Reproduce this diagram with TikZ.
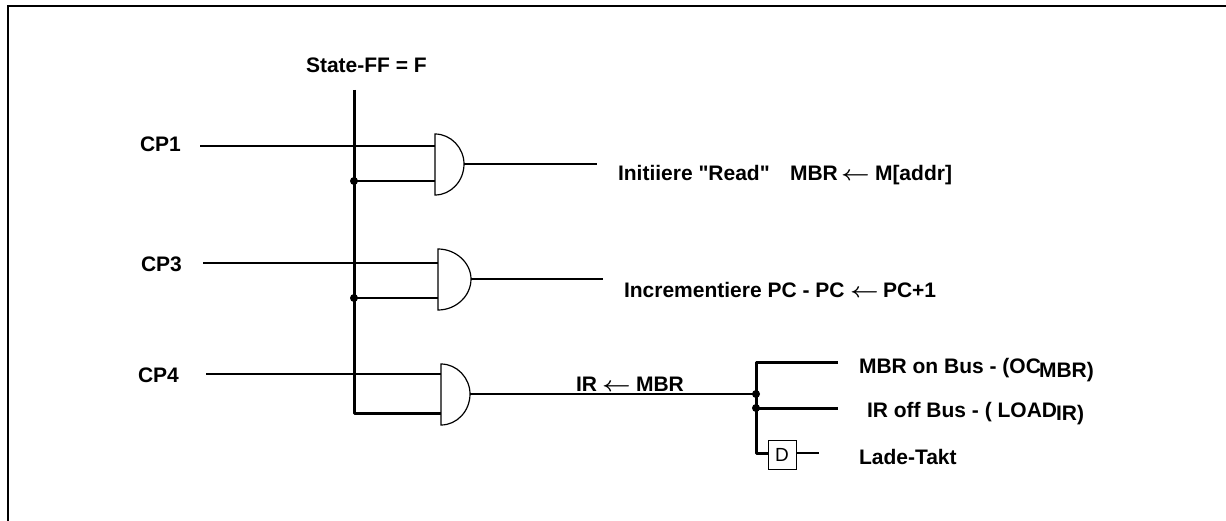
\documentclass[tikz,border=0pt]{standalone}
\usepackage{fontspec}
\newfontfamily\plainsans{Liberation Sans}
\setmainfont{Liberation Sans}
\tikzset{
  thinw/.style={draw=black,line width=1.15pt},
  thickw/.style={draw=black,line width=3pt},
  framew/.style={draw=black,line width=2.2pt},
  lbl/.style={anchor=base west,inner sep=0pt,outer sep=0pt,font=\plainsans\fontsize{21}{24}\selectfont\bfseries},
  jdot/.style={fill=black,circle,inner sep=0pt,minimum size=8pt},
  gatew/.style={draw=black,line width=1.2pt},
  dbox/.style={draw=black,line width=1pt,minimum width=28pt,minimum height=29pt,inner sep=0pt,font=\plainsans\fontsize{19}{22}\selectfont}
}
\newcommand{\larr}{\scalebox{1.2}[1]{\boldmath$\leftarrow$}}
\begin{document}
\begin{tikzpicture}[x=1pt,y=-1pt]
\useasboundingbox (0,0) rectangle (1226,521);
% frame (open to the right and bottom)
\coordinate (fA) at (8,521);
\coordinate (fB) at (8,6);
\coordinate (fC) at (1226,6);
\draw[framew] (fA) -- (fB) -- (fC);

% labels
\node[lbl] (state) at (306,73) {State-FF = F};
\node[lbl] (cp1) at (140,152) {CP1};
\node[lbl] (cp3) at (141,272) {CP3};
\node[lbl] (cp4) at (138,382) {CP4};

% bus
\coordinate (busT) at (354,90);
\coordinate (busB) at (354,413);
\coordinate (j1) at (354,181);
\coordinate (j2) at (354,298);

% gates
\coordinate (g1a) at (435,146);
\coordinate (g1b) at (435,181);
\coordinate (g1o) at (464,164);
\coordinate (g2a) at (438,263);
\coordinate (g2b) at (438,298);
\coordinate (g2o) at (471,279);
\coordinate (g3a) at (441,374);
\coordinate (g3b) at (441,413);
\coordinate (g3o) at (470,394);

\draw[gatew,line join=miter] (435,134) .. controls (451,134) and (464,148) .. (g1o) .. controls (464,181) and (451,195) .. (435,195) -- cycle;
\draw[gatew,line join=miter] (438,249) .. controls (456,249) and (471,263) .. (g2o) .. controls (471,296) and (456,310) .. (438,310) -- cycle;
\draw[gatew,line join=miter] (441,364) .. controls (457,364) and (470,378) .. (g3o) .. controls (470,411) and (457,425) .. (441,425) -- cycle;

% inputs
\coordinate (c1s) at (200,146);
\coordinate (c3s) at (203,263);
\coordinate (c4s) at (206,374);
\draw[thinw] (c1s) -- (g1a);
\draw[thinw] (c3s) -- (g2a);
\draw[thinw] (c4s) -- (g3a);
\draw[thinw] (j1) -- (g1b);
\draw[thinw] (j2) -- (g2b);
\draw[thickw,line join=round] (busT) -- (busB) -- (g3b);
\node[jdot] at (j1) {};
\node[jdot] at (j2) {};

% outputs
\coordinate (o1) at (597,164);
\coordinate (o2) at (603,279);
\coordinate (j3) at (756,394);
\draw[thinw] (g1o) -- (o1);
\draw[thinw] (g2o) -- (o2);
\draw[thinw] (g3o) -- (j3);

% right distribution
\coordinate (rT) at (756,362);
\coordinate (rTe) at (838,362);
\coordinate (j4) at (756,408);
\coordinate (rMe) at (838,408);
\coordinate (rB) at (756,453);
\node[dbox] (D) at (782,454.5) {D};
\coordinate (dOut) at (819,453);
\draw[thickw,line join=round] (rTe) -- (rT) -- (rB) -- (rB -| D.west);
\draw[thickw] (j4) -- (rMe);
\draw[thinw] (D.east |- dOut) -- (dOut);
\node[jdot] at (j3) {};
\node[jdot] at (j4) {};

% right-hand texts
\node[lbl] (t1a) at (618,181) {Initiiere "Read"};
\node[lbl] (t1b) at (790,181) {MBR};
\node[lbl] (t1c) at (841,181) {\larr};
\node[lbl] (t1d) at (875,181) {M[addr]};

\node[lbl] (t2a) at (624,298) {Incrementiere PC - PC};
\node[lbl] (t2c) at (850,298) {\larr};
\node[lbl] (t2d) at (883,298) {PC+1};

\node[lbl] (t3a) at (576,391) {IR};
\node[lbl] (t3c) at (602,391) {\larr};
\node[lbl] (t3d) at (636,391) {MBR};

\node[lbl] (t4a) at (859,373) {MBR on Bus - (OC};
\node[lbl] (t4b) at (1039,377) {MBR)};
\node[lbl] (t5a) at (867,417) {IR off Bus - ( LOAD};
\node[lbl] (t5b) at (1056,420) {IR)};
\node[lbl] (t6) at (859,464) {Lade-Takt};
\end{tikzpicture}
\end{document}
